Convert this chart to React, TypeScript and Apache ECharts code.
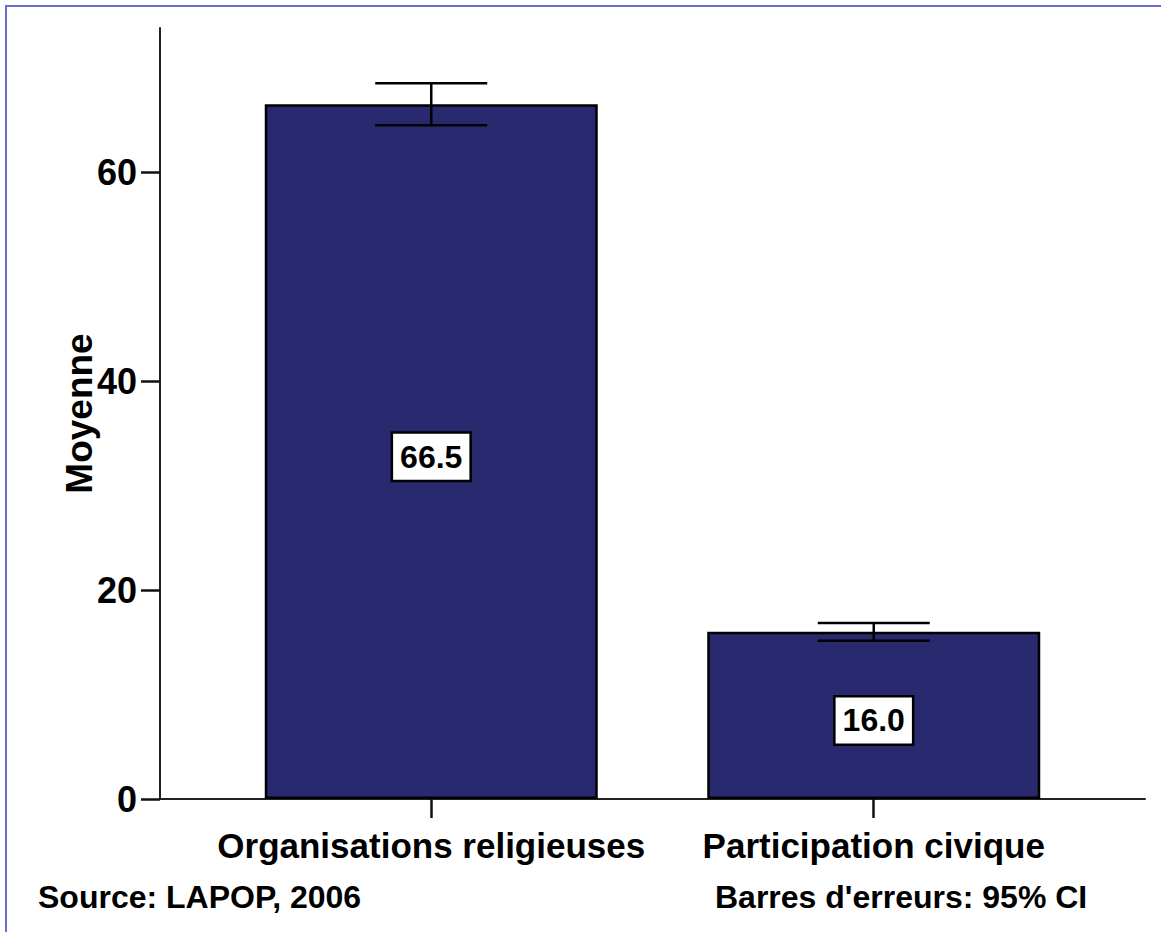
import React, { useEffect, useRef } from "react";
import * as echarts from "echarts";

const categories = ["Organisations religieuses", "Participation civique"];
const means = [66.5, 16.0];
const ciLower = [64.5, 15.15];
const ciUpper = [68.5, 16.85];
const yTicks = [0, 20, 40, 60];
const catPositions = [0, 1];
const yAxisName = "Moyenne";
const sourceText = "Source: LAPOP, 2006";
const errorNote = "Barres d'erreurs: 95% CI";

const FONT = '"Liberation Sans", Arial, Helvetica, sans-serif';

export default function App() {
  const ref = useRef<HTMLDivElement>(null);

  useEffect(() => {
    if (!ref.current) return;
    const chart = echarts.init(ref.current, null, { renderer: "svg" });
    const option: any = {
      animation: false,
      backgroundColor: "#ffffff",
      grid: {
        left: 160,
        right: 16,
        top: 28,
        bottom: 133,
        containLabel: false,
        outerBoundsMode: "none",
      },
      xAxis: {
        type: "value",
        min: -0.613,
        max: 1.613,
        axisLine: { show: true, onZero: false, lineStyle: { color: "#222", width: 2 } },
        axisTick: {
          show: true,
          customValues: catPositions,
          length: 19,
          lineStyle: { color: "#111", width: 2.5 },
        },
        axisLabel: {
          customValues: catPositions,
          formatter: (v: number) => categories[Math.round(v)] ?? "",
          fontSize: 35,
          fontWeight: "bold",
          fontFamily: FONT,
          color: "#000",
          margin: 29,
        },
        splitLine: { show: false },
      },
      yAxis: {
        type: "value",
        min: 0,
        max: 73.8,
        axisLine: { show: true, onZero: false, lineStyle: { color: "#222", width: 2 } },
        axisTick: {
          show: true,
          customValues: yTicks,
          length: 19,
          lineStyle: { color: "#111", width: 2.5 },
        },
        axisLabel: {
          customValues: yTicks,
          fontSize: 36,
          fontWeight: "bold",
          fontFamily: FONT,
          color: "#000",
          margin: 23,
        },
        splitLine: { show: false },
        name: yAxisName,
        nameLocation: "middle",
        nameGap: 62,
        nameMoveOverlap: false,
        nameTextStyle: {
          fontSize: 37,
          fontWeight: "bold",
          fontFamily: FONT,
          color: "#000",
        },
      },
      series: [
        {
          type: "bar",
          data: means.map((v, i) => [catPositions[i], v]),
          barWidth: 333,
          itemStyle: { color: "#29296f", borderColor: "#000", borderWidth: 2.5 },
          label: {
            show: true,
            position: "inside",
            offset: [0, 5],
            formatter: (p: any) => Number(p.value[1]).toFixed(1),
            fontSize: 32,
            fontWeight: "bold",
            fontFamily: FONT,
            color: "#000",
            backgroundColor: "#fff",
            borderColor: "#000",
            borderWidth: 2.5,
            padding: [8, 7, 6, 7],
          },
          z: 2,
        },
        {
          type: "custom",
          data: catPositions.map((x, i) => [x, ciLower[i], ciUpper[i]]),
          encode: { x: 0, y: [1, 2] },
          z: 5,
          renderItem: (params: any, api: any) => {
            const x = api.value(0);
            const lo = api.coord([x, api.value(1)]);
            const hi = api.coord([x, api.value(2)]);
            const hw = 56;
            const style = { stroke: "#000", lineWidth: 2.5 };
            return {
              type: "group",
              children: [
                { type: "line", shape: { x1: hi[0], y1: hi[1], x2: lo[0], y2: lo[1] }, style },
                { type: "line", shape: { x1: hi[0] - hw, y1: hi[1], x2: hi[0] + hw, y2: hi[1] }, style },
                { type: "line", shape: { x1: lo[0] - hw, y1: lo[1], x2: lo[0] + hw, y2: lo[1] }, style },
              ],
            };
          },
        },
      ],
      graphic: [
        {
          type: "rect",
          silent: true,
          shape: { x: 6, y: 6, width: 1170, height: 940 },
          style: { fill: "none", stroke: "#6a6ad0", lineWidth: 2 },
        },
        {
          type: "text",
          x: 38,
          y: 897,
          style: {
            text: sourceText,
            font: `bold 32px ${FONT}`,
            fill: "#000",
            verticalAlign: "middle",
            align: "left",
          },
        },
        {
          type: "text",
          x: 715,
          y: 897,
          style: {
            text: errorNote,
            font: `bold 32px ${FONT}`,
            fill: "#000",
            verticalAlign: "middle",
            align: "left",
          },
        },
      ],
    };
    chart.setOption(option);
    return () => chart.dispose();
  }, []);

  return (
    <div
      ref={ref}
      style={{ position: "absolute", left: 0, top: 0, width: 1161, height: 932 }}
    />
  );
}
